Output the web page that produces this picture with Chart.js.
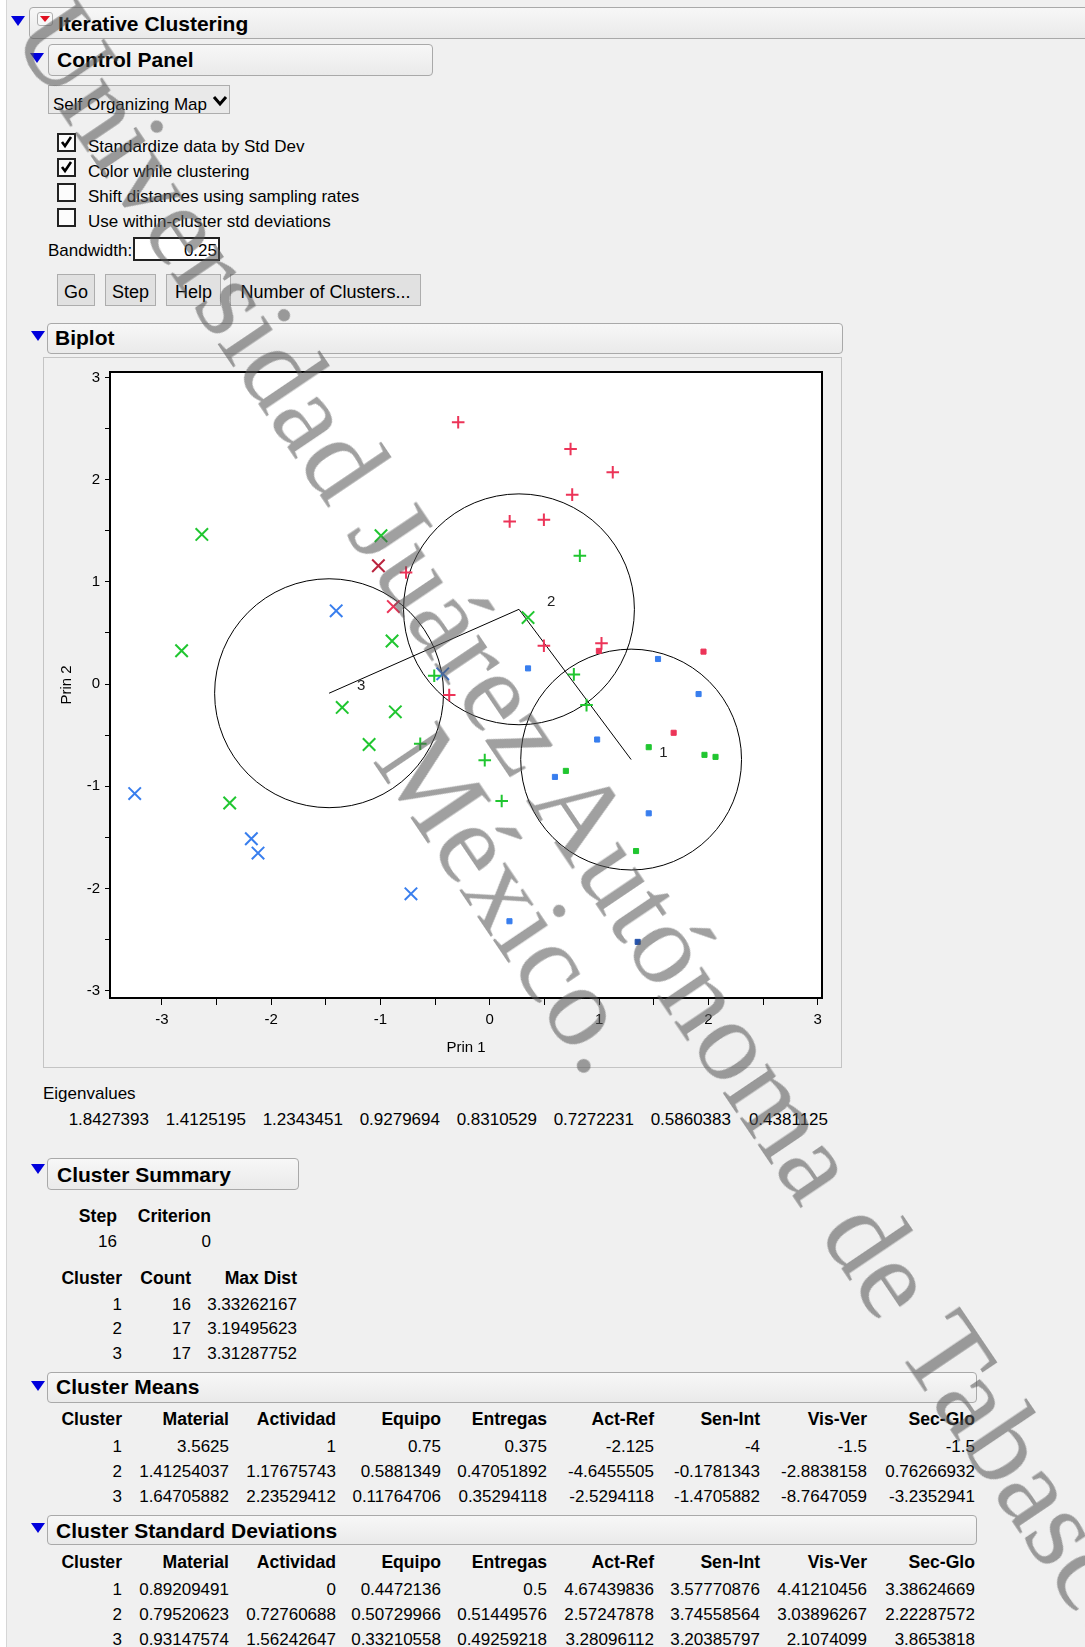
<!DOCTYPE html>
<html>
<head>
<meta charset="utf-8">
<script src="https://cdn.jsdelivr.net/npm/chart.js@4.4.1/dist/chart.umd.min.js"></script>
<style>
  body { margin:0; width:1085px; height:1647px; background:#f0f0f0; position:relative; overflow:hidden;
         font-family:"Liberation Sans", Arial, sans-serif; color:#000; }
  .a { position:absolute; }
  .t { position:absolute; white-space:nowrap; }
  .hdr { position:absolute; border:1px solid #a9a9a9; border-radius:4px; box-sizing:border-box;
         background:linear-gradient(#f7f7f7, #eaeaea); }
  .tri { position:absolute; width:0; height:0; border-left:7px solid transparent; border-right:7px solid transparent;
         border-top:10px solid #0000dc; }
  .btn { position:absolute; top:274px; height:32px; box-sizing:border-box; border:1px solid #adadad;
         background:#e1e1e1; font-size:18px; line-height:18px; text-align:center; padding-top:8px; }
  .cb { position:absolute; left:57px; width:19px; height:19px; box-sizing:border-box; border:2px solid #222; background:#fcfcfc; }
  #mark { position:absolute; left:556px; top:869px; transform:translate(-50%,-50%) rotate(56deg);
          font-family:"Liberation Serif", serif; font-size:117px; line-height:105px; text-align:center;
          white-space:nowrap; color:rgba(85,85,85,0.56); pointer-events:none; z-index:10; }
</style>
</head>
<body>

<div class="a" style="left:0;top:0;width:6px;height:1647px;background:#fff;border-right:1px solid #d6d6d6"></div>

<!-- outline headers -->
<div class="hdr" style="left:29px;top:7px;width:1070px;height:32px"></div>
<div class="tri" style="left:11px;top:16px"></div>
<div class="a" style="left:37px;top:12px;width:16px;height:14px;box-sizing:border-box;border:1px solid #b0b0b0;border-radius:3px;background:#f8f8f8"></div>
<div class="a" style="left:40px;top:16px;width:0;height:0;border-left:5px solid transparent;border-right:5px solid transparent;border-top:6px solid #e01020"></div>

<div class="hdr" style="left:48px;top:44px;width:385px;height:32px"></div>
<div class="tri" style="left:30px;top:53px"></div>

<div class="a" style="left:48px;top:85px;width:182px;height:29px;box-sizing:border-box;border:1px solid #adadad;background:#e9e9e9"></div>
<svg class="a" style="left:211px;top:94px" width="18" height="14"><polyline points="3,3 9,10 15,3" fill="none" stroke="#000" stroke-width="3"/></svg>

<div class="cb" style="top:133px"></div>
<div class="cb" style="top:158px"></div>
<div class="cb" style="top:183px"></div>
<div class="cb" style="top:208px"></div>
<svg class="a" style="left:57px;top:133px" width="19" height="19"><polyline points="5,9 8,13 14,4" fill="none" stroke="#000" stroke-width="2.6"/></svg>
<svg class="a" style="left:57px;top:158px" width="19" height="19"><polyline points="5,9 8,13 14,4" fill="none" stroke="#000" stroke-width="2.6"/></svg>

<div class="a" style="left:133px;top:237px;width:87px;height:24px;box-sizing:border-box;border:2px solid #222;background:#fff"></div>

<div class="btn" style="left:57px;width:38px">Go</div>
<div class="btn" style="left:105px;width:51px">Step</div>
<div class="btn" style="left:166px;width:55px">Help</div>
<div class="btn" style="left:230px;width:191px">Number of Clusters...</div>

<div class="hdr" style="left:47px;top:323px;width:796px;height:31px"></div>
<div class="tri" style="left:31px;top:331px"></div>
<div class="a" style="left:43px;top:357px;width:799px;height:711px;box-sizing:border-box;border:1px solid #c4c4c4"></div>
<canvas id="biplot" class="a" style="left:44px;top:358px" width="797" height="709"></canvas>

<div class="hdr" style="left:47px;top:1158px;width:252px;height:32px"></div>
<div class="tri" style="left:31px;top:1164px"></div>
<div class="hdr" style="left:47px;top:1372px;width:930px;height:31px"></div>
<div class="tri" style="left:31px;top:1381px"></div>
<div class="hdr" style="left:47px;top:1515px;width:930px;height:30px"></div>
<div class="tri" style="left:31px;top:1523px"></div>

<div id="mark">Universidad Juárez Autónoma de Tabasco.<br>México.</div>

<script>
// cluster 1 (squares)
const c1X = [0.35, 1.955, 1.539, 1.91, 1.682, 1.454, 1.964, 2.065, 0.982, 0.696, 0.596, 1.454, 1.338, 0.18, 1.353, 0.998];
const c1Y = [0.153, 0.317, 0.245, -0.098, -0.477, -0.618, -0.693, -0.713, -0.543, -0.85, -0.909, -1.265, -1.634, -2.321, -2.523, 0.324];
const c1Col = ['b', 'r', 'b', 'b', 'r', 'g', 'g', 'g', 'b', 'g', 'b', 'b', 'g', 'b', 'n', 'r'];
// cluster 2 (plus)
const c2X = [-0.766, -0.289, 0.739, 1.125, 0.754, 0.182, 0.495, 0.495, 1.022, -0.371, -0.508, -0.636, 0.824, 0.769, 0.885, -0.046, 0.109];
const c2Y = [1.091, 2.562, 2.3, 2.072, 1.853, 1.591, 1.608, 0.375, 0.398, -0.108, 0.081, -0.585, 1.255, 0.094, -0.206, -0.745, -1.144];
const c2Col = ['r', 'r', 'r', 'r', 'r', 'r', 'r', 'r', 'r', 'r', 'g', 'g', 'g', 'g', 'g', 'g', 'g'];
// cluster 3 (x)
const c3X = [-2.634, -0.995, -0.894, -2.819, 0.35, -1.35, -0.864, -1.104, -2.379, -1.019, -0.882, -1.405, -0.43, -3.248, -2.181, -2.12, -0.721];
const c3Y = [1.464, 1.451, 0.421, 0.326, 0.65, -0.229, -0.272, -0.592, -1.164, 1.157, 0.758, 0.716, 0.1, -1.072, -1.514, -1.654, -2.053];
const c3Col = ['g', 'g', 'g', 'g', 'g', 'g', 'g', 'g', 'g', 'd', 'r', 'b', 'b', 'b', 'b', 'b', 'b'];

// cluster centres, joined 1-2-3, with circle radius (Prin 1 units)
const centerX = [1.293, 0.267, -1.47];
const centerY = [-0.739, 0.731, -0.09];
const centerR = [1.01, 1.056, 1.047];
const centerLabels = ['1', '2', '3'];

const xTicks = [-3, -2.5, -2, -1.5, -1, -0.5, 0, 0.5, 1, 1.5, 2, 2.5, 3];
const yTicks = [-3, -2.5, -2, -1.5, -1, -0.5, 0, 0.5, 1, 1.5, 2, 2.5, 3];

const eigenvalues = ['1.8427393', '1.4125195', '1.2343451', '0.9279694', '0.8310529', '0.7272231', '0.5860383', '0.4381125'];
const summaryCount = ['16', '17', '17'];
const summaryMaxDist = ['3.33262167', '3.19495623', '3.31287752'];
const varNames = ['Material', 'Actividad', 'Equipo', 'Entregas', 'Act-Ref', 'Sen-Int', 'Vis-Ver', 'Sec-Glo'];
const means1 = ['3.5625', '1', '0.75', '0.375', '-2.125', '-4', '-1.5', '-1.5'];
const means2 = ['1.41254037', '1.17675743', '0.5881349', '0.47051892', '-4.6455505', '-0.1781343', '-2.8838158', '0.76266932'];
const means3 = ['1.64705882', '2.23529412', '0.11764706', '0.35294118', '-2.5294118', '-1.4705882', '-8.7647059', '-3.2352941'];
const sd1 = ['0.89209491', '0', '0.4472136', '0.5', '4.67439836', '3.57770876', '4.41210456', '3.38624669'];
const sd2 = ['0.79520623', '0.72760688', '0.50729966', '0.51449576', '2.57247878', '3.74558564', '3.03896267', '2.22287572'];
const sd3 = ['0.93147574', '1.56242647', '0.33210558', '0.49259218', '3.28096112', '3.20385797', '2.1074099', '3.8653818'];

const palette = { r: 'rgb(236,52,88)', d: 'rgb(186,36,62)', g: 'rgb(32,198,48)', b: 'rgb(56,126,238)', n: 'rgb(36,82,170)' };

// text helper: x = left edge, or right = right edge; base = baseline
function put(str, o) {
  const size = o.size || 17;
  const d = document.createElement('div');
  d.className = 't';
  d.textContent = str;
  d.style.fontSize = size + 'px';
  d.style.lineHeight = size + 'px';
  d.style.top = (o.base - 0.8465 * size) + 'px';
  if (o.bold) d.style.fontWeight = 'bold';
  if (o.right !== undefined) { d.style.left = '0px'; d.style.width = o.right + 'px'; d.style.textAlign = 'right'; }
  else d.style.left = o.x + 'px';
  document.body.appendChild(d);
}

put('Iterative Clustering', { x: 58, base: 31, size: 21, bold: true });
put('Control Panel', { x: 57, base: 67, size: 21, bold: true });
put('Self Organizing Map', { x: 53, base: 110 });
['Standardize data by Std Dev', 'Color while clustering', 'Shift distances using sampling rates', 'Use within-cluster std deviations']
  .forEach((s, i) => put(s, { x: 88, base: 152.3 + 25 * i }));
put('Bandwidth:', { x: 48, base: 256.7 });
put('0.25', { right: 217, base: 256.7 });
put('Biplot', { x: 55, base: 345, size: 21, bold: true });

put('Eigenvalues', { x: 43, base: 1099 });
eigenvalues.forEach((v, i) => put(v, { right: 149 + 97 * i, base: 1125 }));

const hb = 17.6; // bold header size in tables
put('Cluster Summary', { x: 57, base: 1182, size: 21, bold: true });
put('Step', { right: 117, base: 1223, bold: true, size: hb });
put('Criterion', { right: 211, base: 1223, bold: true, size: hb });
put('16', { right: 117, base: 1247 });
put('0', { right: 211, base: 1247 });
put('Cluster', { right: 122, base: 1285, bold: true, size: hb });
put('Count', { right: 191, base: 1285, bold: true, size: hb });
put('Max Dist', { right: 297, base: 1285, bold: true, size: hb });
summaryCount.forEach((c, i) => {
  put(String(i + 1), { right: 122, base: 1310 + 24.5 * i });
  put(c, { right: 191, base: 1310 + 24.5 * i });
  put(summaryMaxDist[i], { right: 297, base: 1310 + 24.5 * i });
});

const colRight = [229, 336, 441, 547, 654, 760, 867, 975];
function table(title, titleBase, rows, headBase) {
  put(title, { x: 56, base: titleBase, size: 21, bold: true });
  put('Cluster', { right: 122, base: headBase, bold: true, size: hb });
  varNames.forEach((v, j) => put(v, { right: colRight[j], base: headBase, bold: true, size: hb }));
  rows.forEach((r, i) => {
    const b = headBase + 26 + 25 * i;
    put(String(i + 1), { right: 122, base: b });
    r.forEach((v, j) => put(v, { right: colRight[j], base: b }));
  });
}
table('Cluster Means', 1393.5, [means1, means2, means3], 1426);
table('Cluster Standard Deviations', 1537.5, [sd1, sd2, sd3], 1569);

const pts = (xs, ys) => xs.map((x, i) => ({ x, y: ys[i] }));
const tickFont = { family: 'Liberation Sans', size: 15 };

const overlay = {
  id: 'overlay',
  beforeDatasetsDraw(chart) {
    const { ctx, chartArea: a, scales: { x, y } } = chart;
    ctx.save();
    ctx.fillStyle = '#fff';
    ctx.fillRect(a.left, a.top, a.right - a.left, a.bottom - a.top);
    ctx.beginPath();
    ctx.rect(a.left, a.top, a.right - a.left, a.bottom - a.top);
    ctx.clip();
    ctx.strokeStyle = '#000';
    ctx.lineWidth = 1;
    centerX.forEach((cx, i) => {
      const px = x.getPixelForValue(cx), py = y.getPixelForValue(centerY[i]);
      const r = Math.abs(x.getPixelForValue(cx + centerR[i]) - px);
      ctx.beginPath();
      ctx.arc(px, py, r, 0, Math.PI * 2);
      ctx.stroke();
    });
    ctx.restore();
  },
  afterDatasetsDraw(chart) {
    const { ctx, chartArea: a, scales: { x, y } } = chart;
    ctx.save();
    ctx.fillStyle = '#222';
    ctx.font = '15px "Liberation Sans"';
    ctx.textBaseline = 'middle';
    centerLabels.forEach((lab, i) => {
      ctx.fillText(lab, x.getPixelForValue(centerX[i]) + 28, y.getPixelForValue(centerY[i]) - 7);
    });
    ctx.strokeStyle = '#000';
    ctx.lineWidth = 2;
    ctx.strokeRect(a.left, a.top, a.right - a.left, a.bottom - a.top);
    ctx.restore();
  }
};

new Chart(document.getElementById('biplot'), {
  type: 'scatter',
  data: {
    datasets: [
      { data: pts(c1X, c1Y), pointStyle: 'rect', pointRadius: 3.6, pointBorderWidth: 1,
        pointBackgroundColor: c1Col.map(c => palette[c]), pointBorderColor: c1Col.map(c => palette[c]) },
      { data: pts(c2X, c2Y), pointStyle: 'cross', pointRadius: 6.3, pointBorderWidth: 2,
        pointBorderColor: c2Col.map(c => palette[c]) },
      { data: pts(c3X, c3Y), pointStyle: 'crossRot', pointRadius: 8.8, pointBorderWidth: 2,
        pointBorderColor: c3Col.map(c => palette[c]) },
      { data: pts(centerX, centerY), showLine: true, pointRadius: 0, borderColor: '#000', borderWidth: 1 }
    ]
  },
  options: {
    responsive: false,
    animation: false,
    events: [],
    layout: { padding: { top: 14, right: 19, left: 0, bottom: 0 } },
    plugins: { legend: { display: false }, tooltip: { enabled: false } },
    scales: {
      x: {
        type: 'linear', min: -3.474, max: 3.039,
        afterBuildTicks: s => { s.ticks = xTicks.map(v => ({ value: v })); },
        afterFit: s => { s.height = 69; },
        border: { display: false },
        grid: { drawOnChartArea: false, drawTicks: true, tickLength: 7, color: '#000', lineWidth: 1 },
        ticks: { padding: 6, color: '#000', font: tickFont, maxRotation: 0, autoSkip: false,
                 callback: v => Number.isInteger(v) ? String(v) : '' },
        title: { display: true, text: 'Prin 1', color: '#000', font: tickFont, padding: { top: 0, bottom: 10 } }
      },
      y: {
        type: 'linear', min: -3.072, max: 3.053,
        afterBuildTicks: s => { s.ticks = yTicks.map(v => ({ value: v })); },
        afterFit: s => { s.width = 66; },
        border: { display: false },
        grid: { drawOnChartArea: false, drawTicks: true, tickLength: 5, color: '#000', lineWidth: 1 },
        ticks: { padding: 5, color: '#000', font: tickFont, autoSkip: false,
                 callback: v => Number.isInteger(v) ? String(v) : '' },
        title: { display: true, text: 'Prin 2', color: '#000', font: tickFont, padding: { top: 14, bottom: 0 } }
      }
    }
  },
  plugins: [overlay]
});
</script>
</body>
</html>
